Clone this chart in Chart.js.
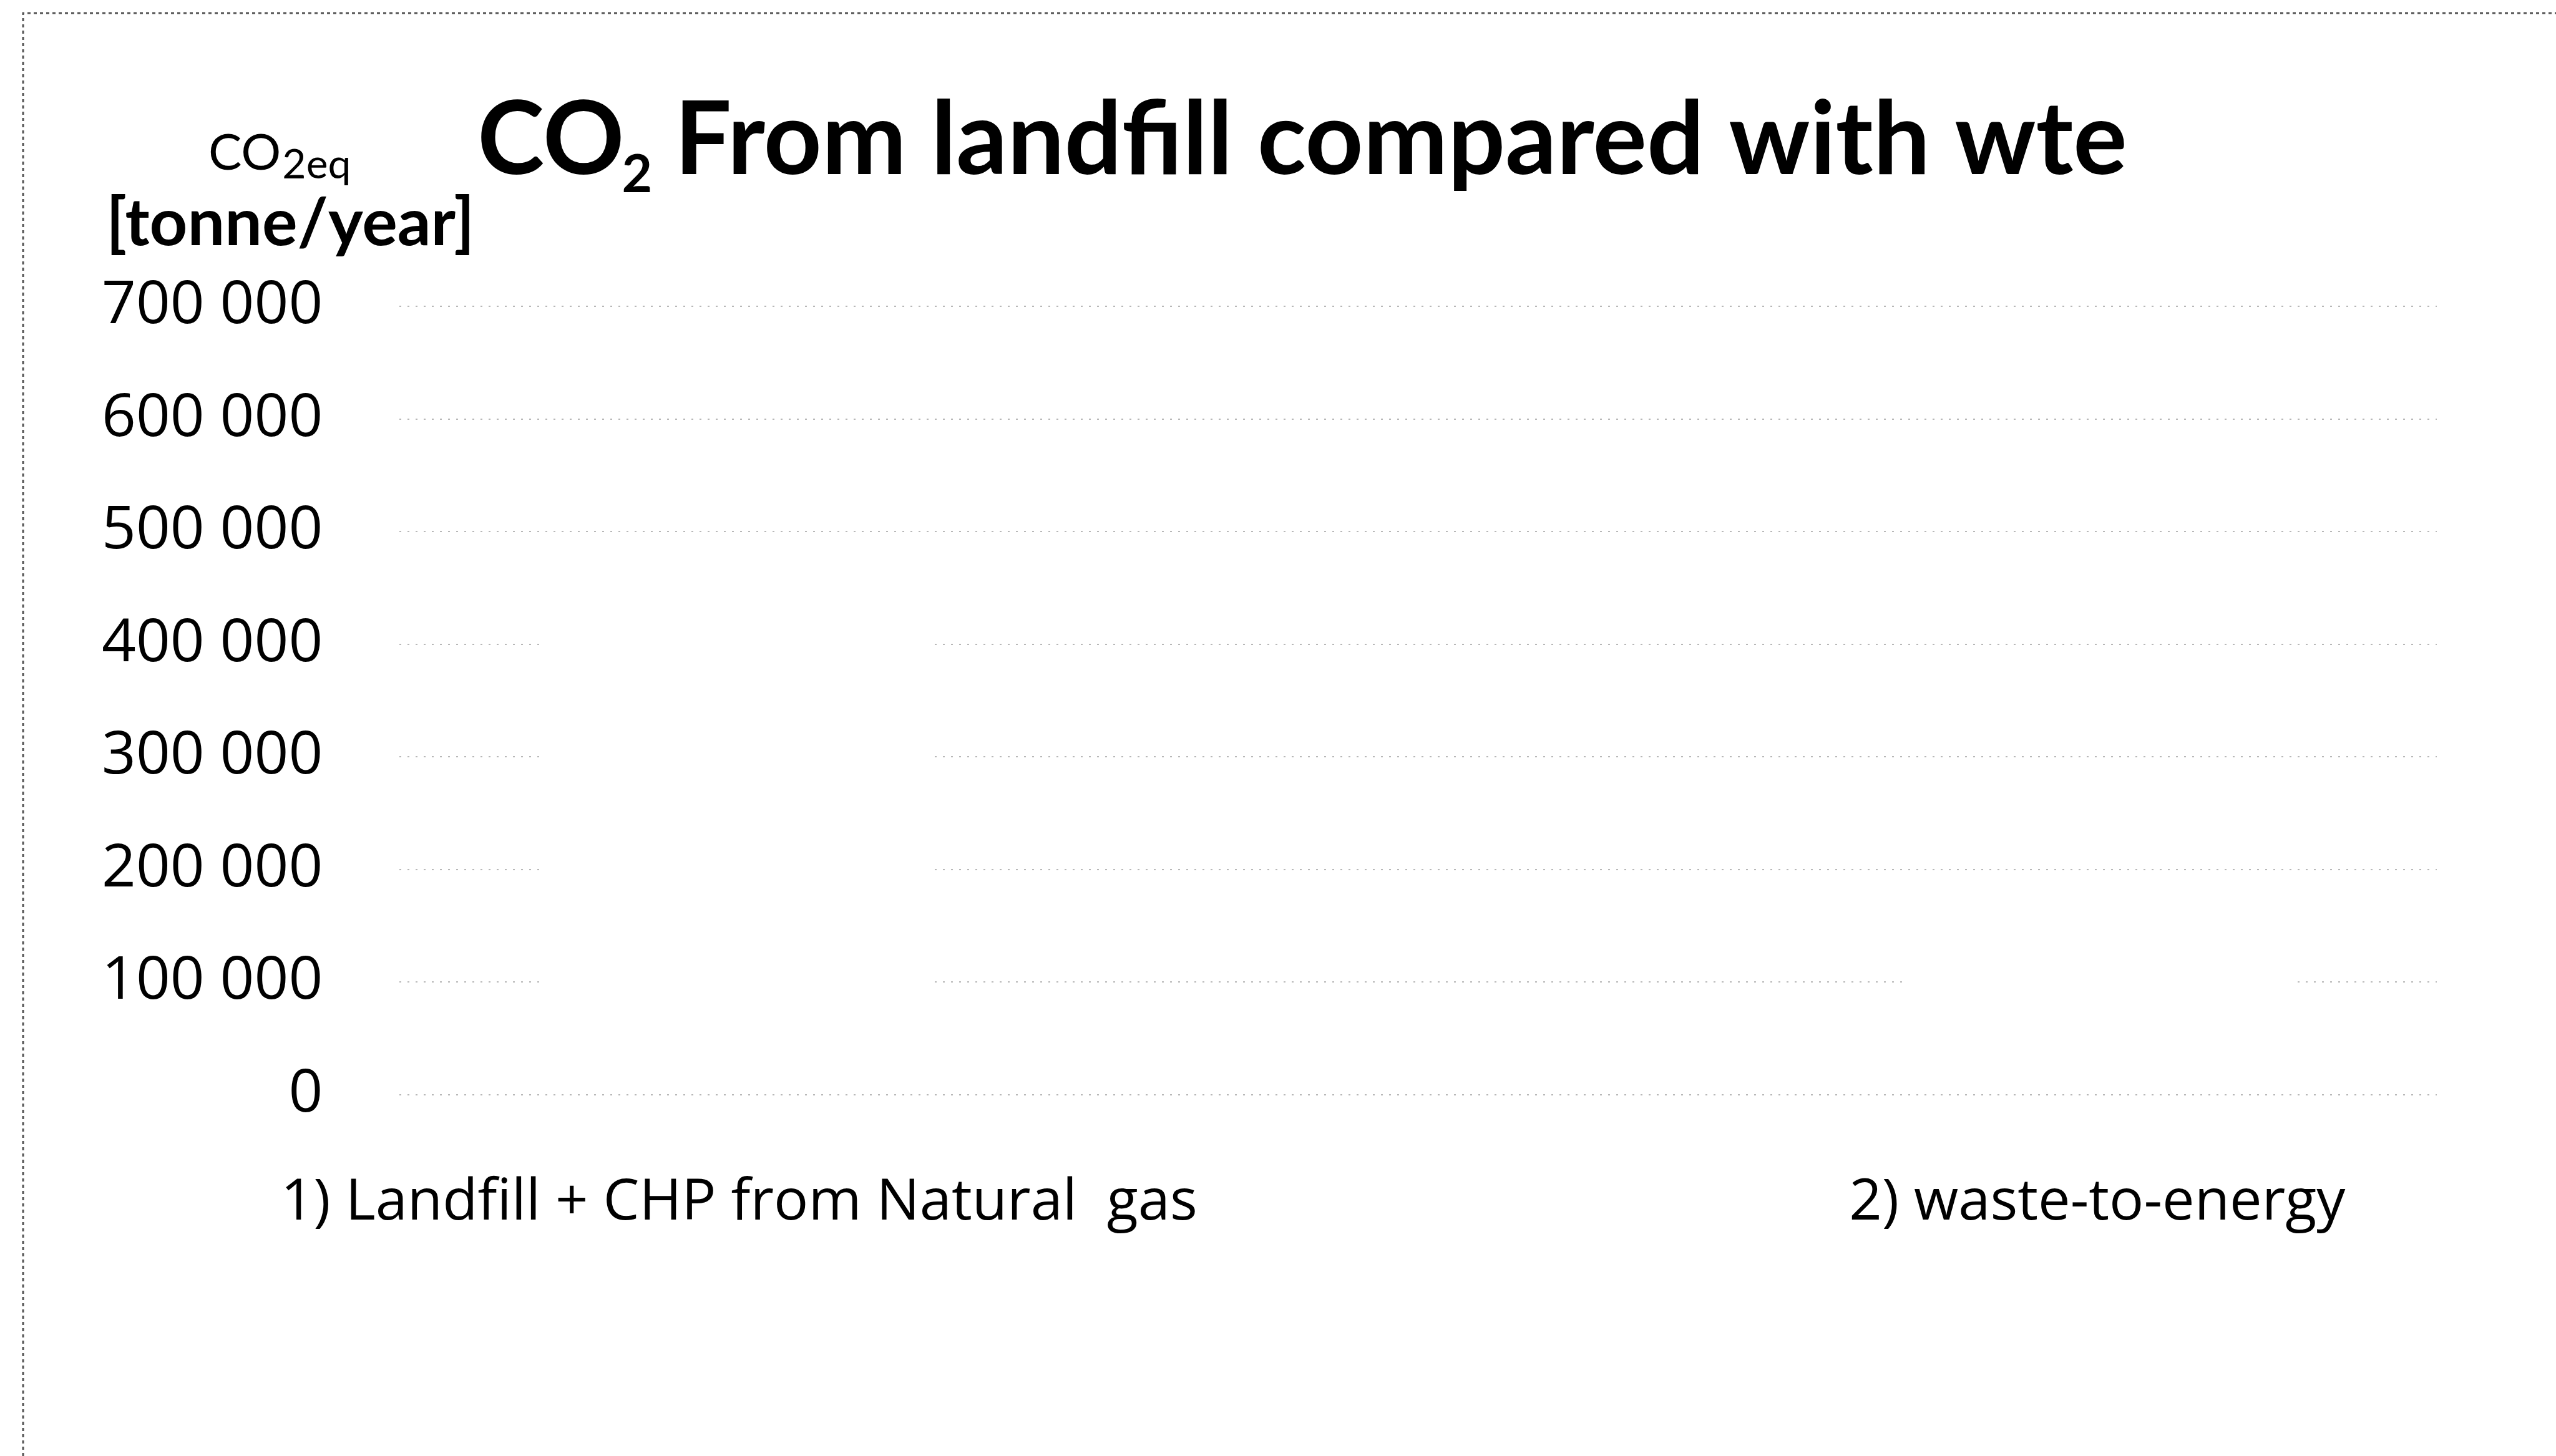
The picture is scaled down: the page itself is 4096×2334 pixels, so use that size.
<!DOCTYPE html>
<html>
<head>
<meta charset="utf-8">
<script src="https://cdn.jsdelivr.net/npm/chart.js@4.4.1/dist/chart.umd.min.js"></script>
<style>
  html, body { margin: 0; padding: 0; background: #ffffff; }
  #wrap { position: relative; width: 4096px; height: 2334px; }
</style>
</head>
<body>
<div id="wrap"><canvas id="co2Chart"></canvas></div>
<script>
// CO2 from landfill compared with waste-to-energy (bars are white in the scan)
const categories = ['1) Landfill + CHP from Natural  gas', '2) waste-to-energy'];
const co2Values = [470000, 150000];
const yTickValues = [0, 100000, 200000, 300000, 400000, 500000, 600000, 700000];

const titleFont = 'Lato, "Open Sans", sans-serif';
const labelFont = '"Open Sans", Lato, sans-serif';

function spaced(v) {
    return String(v).replace(/\B(?=(\d{3})+(?!\d))/g, ' ');
}

// title and unit label, drawn with subscripts
const headerPlugin = {
    id: 'header',
    afterDraw(chart) {
        let ctx = chart.ctx;
        ctx.save();
        ctx.fillStyle = '#000000';
        ctx.textBaseline = 'alphabetic';
        ctx.textAlign = 'left';

        // main title
        let x = 765;
        ctx.font = 'bold 162px ' + titleFont;
        ctx.fillText('CO', x, 279);
        x += ctx.measureText('CO').width - 4;
        ctx.font = 'bold 84px ' + titleFont;
        ctx.fillText('2', x, 308);
        x += ctx.measureText('2').width - 4;
        ctx.font = 'bold 162px ' + titleFont;
        ctx.fillText(' From landfill compared with wte', x, 279);

        // unit label
        x = 334;
        ctx.font = '80px ' + titleFont;
        ctx.fillText('CO', x, 272);
        x += ctx.measureText('CO').width + 2;
        ctx.font = '66px ' + titleFont;
        ctx.fillText('2eq', x, 286);
        ctx.font = 'bold 106px ' + titleFont;
        ctx.fillText('[tonne/year]', 170, 393);

        // scanned frame edges
        ctx.strokeStyle = '#555555';
        ctx.lineWidth = 3;
        ctx.setLineDash([5, 5]);
        ctx.beginPath();
        ctx.moveTo(37, 2334);
        ctx.lineTo(37, 21);
        ctx.lineTo(4096, 21);
        ctx.stroke();
        ctx.restore();
    }
};

let ctx = document.getElementById('co2Chart').getContext('2d');
let myChart = new Chart(ctx, {
    type: 'bar',
    data: {
        datasets: [{
            label: 'CO2eq',
            data: categories.map((c, i) => ({ x: i + 1, y: co2Values[i] })),
            backgroundColor: '#ffffff',
            borderWidth: 0,
            barPercentage: 0.287,
            categoryPercentage: 1
        }]
    },
    options: {
        responsive: true,
        maintainAspectRatio: false,
        animation: false,
        layout: {
            padding: { top: 491, left: 40, right: 191, bottom: 231 }
        },
        plugins: {
            legend: { display: false },
            tooltip: { enabled: false },
            title: { display: false }
        },
        scales: {
            x: {
                type: 'linear',
                min: 0.75,
                max: 2.25,
                offset: false,
                afterBuildTicks: (axis) => {
                    axis.ticks = categories.map((c, i) => ({ value: i + 1 }));
                },
                afterFit: (axis) => {
                    axis.paddingLeft = 0;
                    axis.paddingRight = 0;
                },
                grid: { display: false, drawTicks: false, offset: false },
                border: { display: false },
                ticks: {
                    autoSkip: false,
                    maxRotation: 0,
                    padding: 119,
                    color: '#000000',
                    font: { family: labelFont, size: 92 },
                    callback: (v) => categories[v - 1]
                }
            },
            y: {
                min: 0,
                max: 700000,
                afterBuildTicks: (axis) => {
                    axis.ticks = yTickValues.map(v => ({ value: v }));
                },
                grid: {
                    color: '#b8b8b8',
                    lineWidth: 2,
                    drawTicks: false
                },
                border: { display: false, dash: [3, 10] },
                ticks: {
                    padding: 123,
                    color: '#000000',
                    font: { family: labelFont, size: 96 },
                    callback: (v) => spaced(v)
                }
            }
        }
    },
    plugins: [headerPlugin]
});
</script>
</body>
</html>
